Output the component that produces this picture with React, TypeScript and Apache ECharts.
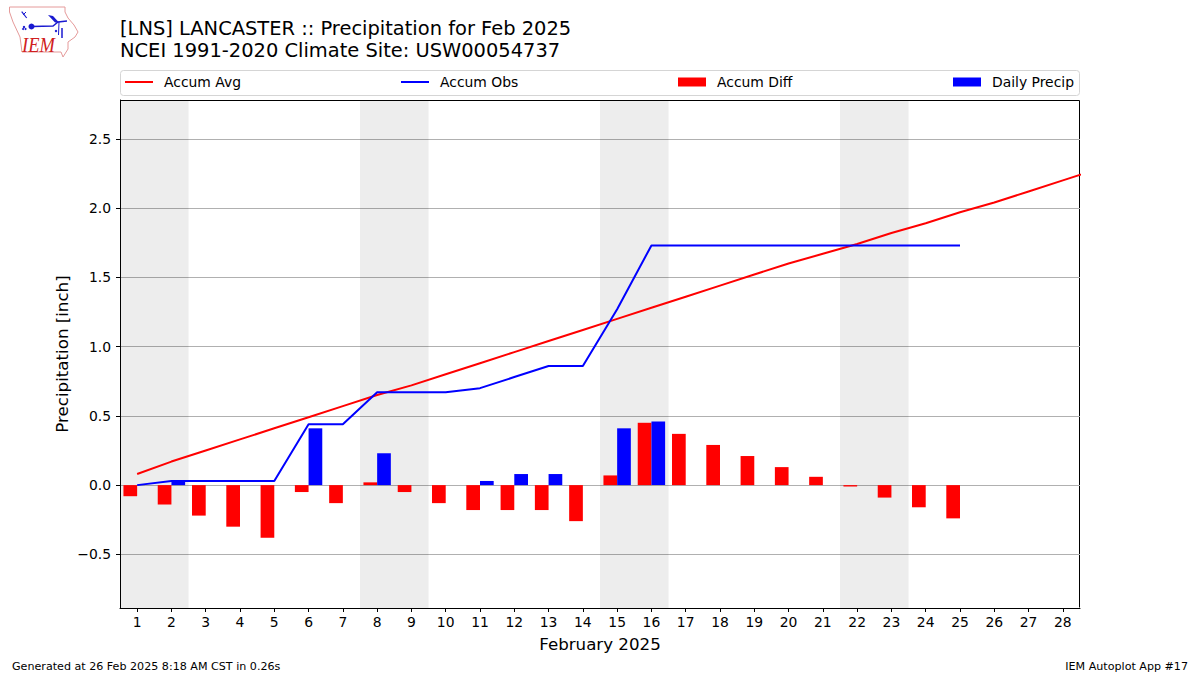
import React, { useEffect, useRef } from "react";
import * as echarts from "echarts";

const titleLines = "[LNS] LANCASTER :: Precipitation for Feb 2025\nNCEI 1991-2020 Climate Site: USW00054737";
const xTitle = "February 2025";
const yTitle = "Precipitation [inch]";
const footerLeft = "Generated at 26 Feb 2025 8:18 AM CST in 0.26s";
const footerRight = "IEM Autoplot App #17";

const days = [1,2,3,4,5,6,7,8,9,10,11,12,13,14,15,16,17,18,19,20,21,22,23,24,25,26,27,28];
const yTicks = [-0.5,0,0.5,1,1.5,2,2.5];
const accumAvg = [0.08,0.17,0.25,0.33,0.41,0.49,0.57,0.65,0.72,0.80,0.88,0.96,1.04,1.12,1.20,1.28,1.36,1.44,1.52,1.60,1.67,1.74,1.82,1.89,1.97,2.04,2.12,2.20,2.28];
const accumObs = [0,0.03,0.03,0.03,0.03,0.44,0.44,0.67,0.67,0.67,0.70,0.78,0.86,0.86,1.27,1.73,1.73,1.73,1.73,1.73,1.73,1.73,1.73,1.73,1.73];
const accumDiff = [-0.08,-0.14,-0.22,-0.30,-0.38,-0.05,-0.13,0.02,-0.05,-0.13,-0.18,-0.18,-0.18,-0.26,0.07,0.45,0.37,0.29,0.21,0.13,0.06,-0.01,-0.09,-0.16,-0.24];
const dailyPrecip = [0,0.03,0,0,0,0.41,0,0.23,0,0,0.03,0.08,0.08,0,0.41,0.46,0,0,0,0,0,0,0,0,0];
const weekendBands = [[0.5,2.5],[7.5,9.5],[14.5,16.5],[21.5,23.5]];

const FONT = "DejaVu Sans";
const withDay = (arr: number[]) => arr.map((v, i) => [i + 1, v]);

export default function App() {
  const ref = useRef<HTMLDivElement>(null);
  useEffect(() => {
    const chart = echarts.init(ref.current!, null, { renderer: "svg" });
    const legendItem = (name: string, left: number, h: number) => ({
      show: true,
      data: [name],
      left,
      top: 75,
      padding: 0,
      itemWidth: 28,
      itemHeight: h,
      itemGap: 0,
      icon: "rect",
      selectedMode: false,
      textStyle: { fontFamily: FONT, fontSize: 13.9, color: "#000", padding: [0, 0, 0, 6] },
    });
    const blue = { stroke: "#1a1ad0", fill: "none" };
    chart.setOption({
      animation: false,
      backgroundColor: "#fff",
      textStyle: { fontFamily: FONT },
      grid: { left: 120, right: 120, top: 100, bottom: 67, containLabel: false, show: false },
      legend: [
        legendItem("Accum Avg", 125, 2),
        legendItem("Accum Obs", 401, 2),
        legendItem("Accum Diff", 678, 9),
        legendItem("Daily Precip", 953, 9),
      ],
      xAxis: {
        type: "value",
        min: 0.5,
        max: 28.5,
        name: xTitle,
        nameLocation: "middle",
        nameGap: 28,
        nameTextStyle: { fontFamily: FONT, fontSize: 16.67, color: "#000" },
        axisLine: { show: true, onZero: false, lineStyle: { color: "#000", width: 1 } },
        axisTick: { show: true, length: 4, customValues: days, lineStyle: { color: "#000" } },
        axisLabel: { customValues: days, fontFamily: FONT, fontSize: 13.9, color: "#000", margin: 7, hideOverlap: false,
          showMinLabel: true, showMaxLabel: true },
        splitLine: { show: false },
      },
      yAxis: {
        type: "value",
        min: -0.887,
        max: 2.78,
        name: yTitle,
        nameLocation: "middle",
        nameGap: 49,
        nameMoveOverlap: false,
        nameTextStyle: { fontFamily: FONT, fontSize: 16.67, color: "#000" },
        axisLine: { show: true, onZero: false, lineStyle: { color: "#000", width: 1 } },
        axisTick: { show: true, length: 4, customValues: yTicks, lineStyle: { color: "#000" } },
        axisLabel: { customValues: yTicks, fontFamily: FONT, fontSize: 13.9, color: "#000", margin: 9,
          formatter: (v: number) => (v < 0 ? "\u2212" + Math.abs(v).toFixed(1) : v.toFixed(1)) },
        splitLine: { show: true, lineStyle: { color: "#b0b0b0", width: 1 } },
      },
      series: [
        {
          name: "Accum Diff",
          type: "bar",
          data: withDay(accumDiff),
          barWidth: 13.7,
          barGap: "0%",
          itemStyle: { color: "#ff0000" },
          z: 3,
          markArea: {
            silent: true,
            itemStyle: { color: "rgba(0,0,0,0.07)" },
            data: weekendBands.map(([a, b]) => [{ xAxis: a }, { xAxis: b }]),
          },
        },
        {
          name: "Daily Precip",
          type: "bar",
          data: withDay(dailyPrecip),
          barWidth: 13.7,
          barGap: "0%",
          itemStyle: { color: "#0000ff" },
          z: 3,
        },
        {
          name: "Accum Avg",
          type: "line",
          data: withDay(accumAvg),
          symbol: "none",
          lineStyle: { color: "#ff0000", width: 2 },
          itemStyle: { color: "#ff0000" },
          z: 5,
        },
        {
          name: "Accum Obs",
          type: "line",
          data: withDay(accumObs),
          symbol: "none",
          lineStyle: { color: "#0000ff", width: 2 },
          itemStyle: { color: "#0000ff" },
          z: 5,
        },
      ],
      graphic: [
        { type: "text", left: 120, top: 18, style: { text: titleLines, fontFamily: FONT, fontSize: 19.44, fill: "#000", lineHeight: 21.5 } },
        { type: "text", left: 12, top: 661, style: { text: footerLeft, fontFamily: FONT, fontSize: 11.11, fill: "#000" } },
        { type: "text", right: 12, top: 661, style: { text: footerRight, fontFamily: FONT, fontSize: 11.11, fill: "#000" } },
        { type: "rect", shape: { x: 120.5, y: 70.5, width: 959, height: 25, r: 3 }, style: { fill: "none", stroke: "#d5d5d5", lineWidth: 1 }, z: -1 },
        { type: "polygon", shape: { points: [[9.5,7],[65,7],[65,12],[68,18],[74,25],[78,32],[75,37],[68,42],[68,49],[63,57],[61,52],[22,52],[20,37],[13,22],[9.5,12]] }, style: { stroke: "#e59a9a", lineWidth: 1, fill: "none" } },
        { type: "polyline", shape: { points: [[32,26.5],[53,26],[58,22],[67,21]] }, style: { ...blue, lineWidth: 1.5 } },
        { type: "circle", shape: { cx: 31.5, cy: 26.5, r: 3 }, style: { fill: "#1a1ad0" } },
        { type: "polygon", shape: { points: [[48,15],[53,16],[59,22.5],[55,22.5]] }, style: { fill: "#1a1ad0" } },
        { type: "polyline", shape: { points: [[59,22],[58.5,35]] }, style: { ...blue, lineWidth: 1 } },
        { type: "polyline", shape: { points: [[62,28],[62,38]] }, style: { ...blue, lineWidth: 1.5 } },
        { type: "polyline", shape: { points: [[21.7,11.7],[26.7,18]] }, style: { ...blue, lineWidth: 1.2 } },
        { type: "polyline", shape: { points: [[23,15],[26,12]] }, style: { ...blue, lineWidth: 1 } },
        { type: "circle", shape: { cx: 24, cy: 27, r: 1.2 }, style: { fill: "#1a1ad0" } },
        { type: "circle", shape: { cx: 23, cy: 29, r: 1 }, style: { fill: "#1a1ad0" } },
        { type: "circle", shape: { cx: 25.5, cy: 29, r: 1 }, style: { fill: "#1a1ad0" } },
        { type: "circle", shape: { cx: 56, cy: 31, r: 1.2 }, style: { fill: "#1a1ad0" } },
        { type: "text", x: 22, y: 33, scaleX: 0.84, style: { text: "IEM", fontFamily: "Liberation Serif", fontStyle: "italic", fontSize: 22, fill: "#d02020" } },
        { type: "polyline", shape: { points: [[120.5,100.5],[1079.5,100.5],[1079.5,607.5]] }, style: { stroke: "#000", lineWidth: 1, fill: "none" } },
      ],
    });
    return () => chart.dispose();
  }, []);
  return <div ref={ref} style={{ position: "absolute", left: 0, top: 0, width: 1200, height: 675 }} />;
}
